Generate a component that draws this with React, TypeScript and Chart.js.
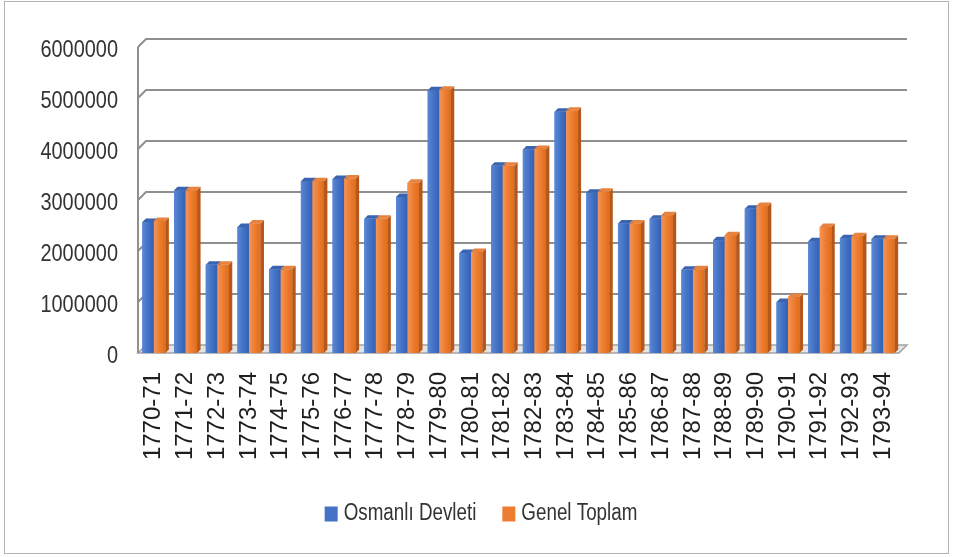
import React, { useEffect, useRef } from 'react';
import { Chart, registerables } from 'chart.js';

Chart.register(...registerables);

const categories = [
  '1770-71', '1771-72', '1772-73', '1773-74', '1774-75', '1775-76', '1776-77', '1777-78',
  '1778-79', '1779-80', '1780-81', '1781-82', '1782-83', '1783-84', '1784-85', '1785-86',
  '1786-87', '1787-88', '1788-89', '1789-90', '1790-91', '1791-92', '1792-93', '1793-94',
];

const osmanliDevleti = [
  2570000, 3190000, 1730000, 2470000, 1640000, 3370000, 3410000, 2630000,
  3060000, 5150000, 1960000, 3670000, 3990000, 4730000, 3140000, 2540000,
  2630000, 1630000, 2210000, 2830000, 1000000, 2190000, 2250000, 2240000,
];

const genelToplam = [
  2590000, 3190000, 1730000, 2540000, 1640000, 3370000, 3420000, 2630000,
  3340000, 5160000, 1980000, 3670000, 4000000, 4750000, 3160000, 2540000,
  2700000, 1640000, 2310000, 2880000, 1100000, 2470000, 2290000, 2240000,
];

const seriesNames = ['Osmanlı Devleti', 'Genel Toplam'];
const seriesColors = ['#4472c4', '#ed7d31'];
const yMin = 0;
const yMax = 6000000;
const yStep = 1000000;

const SANS = "'Liberation Sans', Arial, sans-serif";

const WALL_DEPTH = 8;
const BAR_DEPTH = 3.5;

const palettes = [
  { stops: ['#5a88d8', '#4472c4', '#3160b8'], top: '#3a63b0', side: '#2b529c' },
  { stops: ['#f49556', '#ed7d31', '#df6d1d'], top: '#e7823f', side: '#b5571a' },
];

function drawCondensed(ctx: CanvasRenderingContext2D, text: string, x: number, y: number, sx: number, align: CanvasTextAlign) {
  ctx.save();
  ctx.translate(x, y);
  ctx.scale(sx, 1);
  ctx.textAlign = align;
  ctx.textBaseline = 'middle';
  ctx.fillText(text, 0, 0);
  ctx.restore();
}

const wallPlugin = {
  id: 'wall3d',
  beforeDatasetsDraw(chart: any) {
    const { ctx, chartArea, scales } = chart;
    const { left, right } = chartArea;
    const y = scales.y;
    const y0 = y.getPixelForValue(yMin);
    const yTop = y.getPixelForValue(yMax);
    ctx.save();
    // floor
    ctx.beginPath();
    ctx.moveTo(left, y0);
    ctx.lineTo(right, y0);
    ctx.lineTo(right + WALL_DEPTH, y0 - WALL_DEPTH);
    ctx.lineTo(left + WALL_DEPTH, y0 - WALL_DEPTH);
    ctx.closePath();
    ctx.fillStyle = '#e4e4e4';
    ctx.fill();
    ctx.strokeStyle = '#a3a3a3';
    ctx.lineWidth = 1.5;
    ctx.stroke();
    // grid lines on back wall
    ctx.strokeStyle = '#8f8f8f';
    ctx.lineWidth = 2;
    y.ticks.forEach((t: any) => {
      if (t.value === yMin) return;
      const yy = y.getPixelForValue(t.value);
      ctx.beginPath();
      ctx.moveTo(left, yy);
      ctx.lineTo(left + WALL_DEPTH, yy - WALL_DEPTH);
      ctx.lineTo(right + WALL_DEPTH, yy - WALL_DEPTH);
      ctx.stroke();
    });
    // left wall front edge
    ctx.beginPath();
    ctx.moveTo(left, yTop);
    ctx.lineTo(left, y0);
    ctx.stroke();
    ctx.restore();
  },
  afterDatasetsDraw(chart: any) {
    const { ctx } = chart;
    ctx.save();
    chart.data.datasets.forEach((_ds: any, di: number) => {
      const meta = chart.getDatasetMeta(di);
      const pal = palettes[di];
      meta.data.forEach((bar: any) => {
        const { x, y, base, width } = bar.getProps(['x', 'y', 'base', 'width'], true);
        const l = x - width / 2;
        const r = x + width / 2;
        const g = ctx.createLinearGradient(l, 0, r, 0);
        g.addColorStop(0, pal.stops[0]);
        g.addColorStop(0.5, pal.stops[1]);
        g.addColorStop(1, pal.stops[2]);
        ctx.fillStyle = g;
        ctx.fillRect(l, y, width, base - y);
        // side face
        ctx.beginPath();
        ctx.moveTo(r, y);
        ctx.lineTo(r + BAR_DEPTH, y - BAR_DEPTH);
        ctx.lineTo(r + BAR_DEPTH, base - BAR_DEPTH);
        ctx.lineTo(r, base);
        ctx.closePath();
        ctx.fillStyle = pal.side;
        ctx.fill();
        // top face
        ctx.beginPath();
        ctx.moveTo(l, y);
        ctx.lineTo(l + BAR_DEPTH, y - BAR_DEPTH);
        ctx.lineTo(r + BAR_DEPTH, y - BAR_DEPTH);
        ctx.lineTo(r, y);
        ctx.closePath();
        ctx.fillStyle = pal.top;
        ctx.fill();
      });
    });
    ctx.restore();
  },
  afterDraw(chart: any) {
    const { ctx, scales } = chart;
    const y = scales.y;
    ctx.save();
    // y tick labels (condensed, like Calibri)
    ctx.fillStyle = '#333333';
    ctx.font = `24px ${SANS}`;
    y.ticks.forEach((t: any) => {
      const yy = y.getPixelForValue(t.value);
      drawCondensed(ctx, String(t.label), 118, yy + 3, 0.83, 'right');
    });
    // legend
    ctx.font = `23.5px ${SANS}`;
    const sx = 0.8;
    const swW = 13;
    const swH = 15;
    const gapText = 6;
    const gapItem = 26;
    const items = chart.data.datasets.map((ds: any, i: number) => ({
      text: ds.label as string,
      color: seriesColors[i],
      w: ctx.measureText(ds.label).width * sx,
    }));
    const total = items.reduce((a: number, it: any) => a + swW + gapText + it.w, 0) + gapItem * (items.length - 1);
    let cx = 481 - total / 2;
    const cy = 514;
    items.forEach((it: any) => {
      ctx.fillStyle = it.color;
      ctx.fillRect(cx, cy - swH / 2, swW, swH);
      cx += swW + gapText;
      ctx.fillStyle = '#333333';
      drawCondensed(ctx, it.text, cx, cy, sx, 'left');
      cx += it.w + gapItem;
    });
    // outer frame
    ctx.strokeStyle = '#b4b4b4';
    ctx.lineWidth = 1;
    ctx.strokeRect(4.5, 1.5, 944, 552);
    ctx.restore();
  },
};

export default function App() {
  const canvasRef = useRef<HTMLCanvasElement | null>(null);

  useEffect(() => {
    if (!canvasRef.current) return;
    const chart = new Chart(canvasRef.current, {
      type: 'bar',
      data: {
        labels: categories,
        datasets: [
          {
            label: seriesNames[0],
            data: osmanliDevleti,
            backgroundColor: seriesColors[0],
            borderWidth: 0,
            barPercentage: 1,
            categoryPercentage: 0.726,
          },
          {
            label: seriesNames[1],
            data: genelToplam,
            backgroundColor: seriesColors[1],
            borderWidth: 0,
            barPercentage: 1,
            categoryPercentage: 0.726,
          },
        ],
      },
      options: {
        responsive: false,
        animation: false,
        devicePixelRatio: 1,
        layout: { padding: { left: 0, right: 54, top: 47, bottom: 65 } },
        plugins: {
          legend: { display: false },
          tooltip: { enabled: false },
        },
        scales: {
          x: {
            grid: { display: false, drawTicks: false },
            border: { display: false },
            ticks: {
              autoSkip: false,
              maxRotation: 90,
              minRotation: 90,
              padding: 19,
              color: '#1f1f1f',
              font: { family: SANS, size: 24 },
            },
            afterFit: (s: any) => {
              s.height = 139;
            },
          },
          y: {
            min: yMin,
            max: yMax,
            grid: { display: false, drawTicks: false },
            border: { display: false },
            ticks: {
              display: false,
              stepSize: yStep,
              callback: (v: any) => String(v),
            },
            afterFit: (s: any) => {
              s.width = 138;
            },
          },
        },
      },
      plugins: [wallPlugin],
    } as any);
    return () => chart.destroy();
  }, []);

  return (
    <div style={{ position: 'absolute', left: 0, top: 0, width: 953, height: 557, background: '#ffffff' }}>
      <canvas ref={canvasRef} width={953} height={557} style={{ display: 'block' }} />
    </div>
  );
}
